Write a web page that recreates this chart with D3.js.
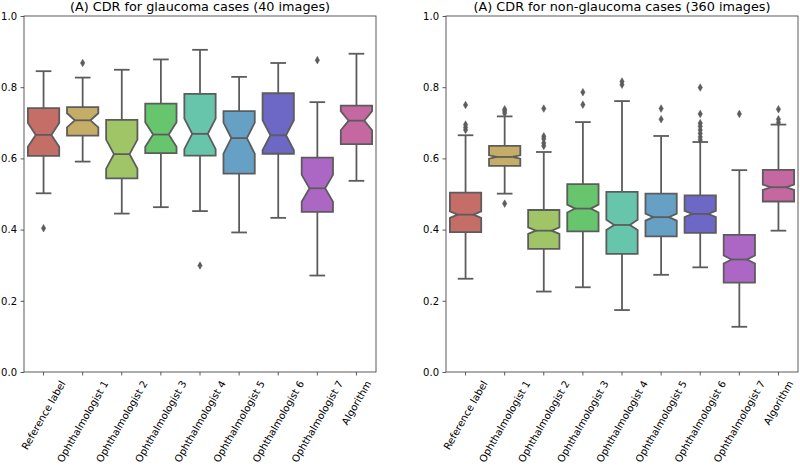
<!DOCTYPE html>
<html>
<head>
<meta charset="utf-8">
<script src="https://cdn.jsdelivr.net/npm/d3@7"></script>
<style>
  body { margin: 0; background: #fff; }
  svg { display: block; font-family: "DejaVu Sans", sans-serif; }
</style>
</head>
<body>
<svg id="chart" width="800" height="467"></svg>
<script>
// ---------- DATA ----------
const categories = ["Reference label", "Ophthalmologist 1", "Ophthalmologist 2", "Ophthalmologist 3",
  "Ophthalmologist 4", "Ophthalmologist 5", "Ophthalmologist 6", "Ophthalmologist 7", "Algorithm"];
const yTicks = [0.0, 0.2, 0.4, 0.6, 0.8, 1.0];

const titleGlaucoma = "(A) CDR for glaucoma cases (40 images)";
const nGlaucoma = 40;
const glaucomaWhiskerLow  = [0.502, 0.591, 0.445, 0.463, 0.452, 0.392, 0.433, 0.271, 0.537];
const glaucomaQ1          = [0.607, 0.664, 0.544, 0.615, 0.608, 0.557, 0.613, 0.450, 0.640];
const glaucomaMedian      = [0.666, 0.707, 0.612, 0.667, 0.669, 0.657, 0.665, 0.516, 0.706];
const glaucomaQ3          = [0.741, 0.744, 0.708, 0.754, 0.781, 0.733, 0.783, 0.602, 0.748];
const glaucomaWhiskerHigh = [0.845, 0.827, 0.849, 0.878, 0.905, 0.829, 0.868, 0.758, 0.894];
const glaucomaOutliers    = [[0.404], [0.868], [], [], [0.299], [], [], [0.876], []];

const titleNonGlaucoma = "(A) CDR for non-glaucoma cases (360 images)";
const nNonGlaucoma = 360;
const nonGlaucomaWhiskerLow  = [0.262, 0.501, 0.226, 0.238, 0.174, 0.273, 0.294, 0.127, 0.397];
const nonGlaucomaQ1          = [0.393, 0.579, 0.346, 0.395, 0.332, 0.381, 0.391, 0.251, 0.479];
const nonGlaucomaMedian      = [0.442, 0.604, 0.397, 0.459, 0.413, 0.435, 0.444, 0.316, 0.519];
const nonGlaucomaQ3          = [0.504, 0.635, 0.455, 0.528, 0.506, 0.501, 0.496, 0.385, 0.568];
const nonGlaucomaWhiskerHigh = [0.665, 0.718, 0.618, 0.702, 0.761, 0.663, 0.646, 0.567, 0.695];
const nonGlaucomaOutliers    = [
  [0.750, 0.695, 0.687, 0.680],
  [0.738, 0.733, 0.727, 0.473],
  [0.740, 0.662, 0.655, 0.643, 0.635],
  [0.786, 0.751],
  [0.816, 0.807],
  [0.740, 0.710],
  [0.799, 0.725, 0.699, 0.690, 0.680, 0.670, 0.660, 0.652],
  [0.725],
  [0.738, 0.710, 0.701]
];

// ---------- STYLE ----------
const hues = [3.6, 43.6, 83.6, 123.6, 163.6, 203.6, 243.6, 283.6, 323.6];
const colors = hues.map(h => d3.hsl(h, 0.45, 0.59).formatHex());
const gray = "#5c5c5c";

const svg = d3.select("#chart");
const plotTop = 16, plotBottom = 372;

function panel(x0, x1, title, n, wl, q1, med, q3, wh, outl) {
  const g = svg.append("g");
  const x = d3.scaleBand().domain(categories).range([x0, x1]).padding(0);
  const y = d3.scaleLinear().domain([0, 1]).range([plotBottom, plotTop]);
  const bw = x.bandwidth() * 0.8;

  categories.forEach((c, i) => {
    const cx = x(c) + x.bandwidth() / 2;
    const l = cx - bw / 2, r = cx + bw / 2;
    const nl = cx - bw / 4, nr = cx + bw / 4;
    const iqr = q3[i] - q1[i];
    const ci = 1.57 * iqr / Math.sqrt(n);
    const lo = med[i] - ci, hi = med[i] + ci;
    // whiskers
    g.append("line").attr("x1", cx).attr("x2", cx).attr("y1", y(q1[i])).attr("y2", y(wl[i]))
      .attr("stroke", gray).attr("stroke-width", 1.8);
    g.append("line").attr("x1", cx).attr("x2", cx).attr("y1", y(q3[i])).attr("y2", y(wh[i]))
      .attr("stroke", gray).attr("stroke-width", 1.8);
    // caps
    [wl[i], wh[i]].forEach(v => {
      g.append("line").attr("x1", cx - bw / 4).attr("x2", cx + bw / 4).attr("y1", y(v)).attr("y2", y(v))
        .attr("stroke", gray).attr("stroke-width", 1.8);
    });
    // notched box
    const pts = [[l, q1[i]], [r, q1[i]], [r, lo], [nr, med[i]], [r, hi], [r, q3[i]],
                 [l, q3[i]], [l, hi], [nl, med[i]], [l, lo]];
    g.append("path")
      .attr("d", "M" + pts.map(p => p[0] + "," + y(p[1])).join("L") + "Z")
      .attr("fill", colors[i]).attr("stroke", gray).attr("stroke-width", 1.8)
      .attr("stroke-linejoin", "miter");
    // median
    g.append("line").attr("x1", nl).attr("x2", nr).attr("y1", y(med[i])).attr("y2", y(med[i]))
      .attr("stroke", gray).attr("stroke-width", 1.8);
    // outliers
    outl[i].forEach(v => {
      const py = y(v);
      g.append("path")
        .attr("d", `M${cx},${py - 3.8}L${cx + 2.2},${py}L${cx},${py + 3.8}L${cx - 2.2},${py}Z`)
        .attr("fill", gray).attr("stroke", gray).attr("stroke-width", 0.5);
    });
  });

  // frame
  g.append("rect").attr("x", x0).attr("y", plotTop).attr("width", x1 - x0).attr("height", plotBottom - plotTop)
    .attr("fill", "none").attr("stroke", "#333").attr("stroke-width", 0.8);

  // y axis
  const ya = g.append("g").attr("transform", `translate(${x0},0)`)
    .call(d3.axisLeft(y).tickValues(yTicks).tickFormat(d3.format(".1f")).tickSize(3.5).tickPadding(3.5));
  ya.select(".domain").remove();
  ya.selectAll("line").attr("stroke", "#333").attr("stroke-width", 0.8);
  ya.selectAll("text").attr("font-size", 10).attr("fill", "#000")
    .attr("font-family", "DejaVu Sans, sans-serif");

  // x axis
  const xa = g.append("g").attr("transform", `translate(0,${plotBottom})`)
    .call(d3.axisBottom(x).tickSize(3.5).tickFormat(""));
  xa.select(".domain").remove();
  xa.selectAll("line").attr("stroke", "#333").attr("stroke-width", 0.8);

  // rotated labels
  categories.forEach(c => {
    const cx = x(c) + x.bandwidth() / 2;
    const t = g.append("text").text(c).attr("font-size", 10).attr("fill", "#000")
      .attr("text-anchor", "end").attr("dominant-baseline", "central");
    const L = t.node().getComputedTextLength();
    const h = 10;
    const ax = cx + 0.25 * L, ay = plotBottom + 7 + 0.25 * h;
    t.attr("transform", `translate(${ax},${ay}) rotate(-60)`);
  });

  // title
  g.append("text").text(title).attr("x", (x0 + x1) / 2).attr("y", 10.5)
    .attr("text-anchor", "middle").attr("font-size", 12.8).attr("fill", "#000");
}

panel(24, 376, titleGlaucoma, nGlaucoma, glaucomaWhiskerLow, glaucomaQ1, glaucomaMedian,
  glaucomaQ3, glaucomaWhiskerHigh, glaucomaOutliers);
panel(446, 798, titleNonGlaucoma, nNonGlaucoma, nonGlaucomaWhiskerLow, nonGlaucomaQ1, nonGlaucomaMedian,
  nonGlaucomaQ3, nonGlaucomaWhiskerHigh, nonGlaucomaOutliers);
</script>
</body>
</html>
